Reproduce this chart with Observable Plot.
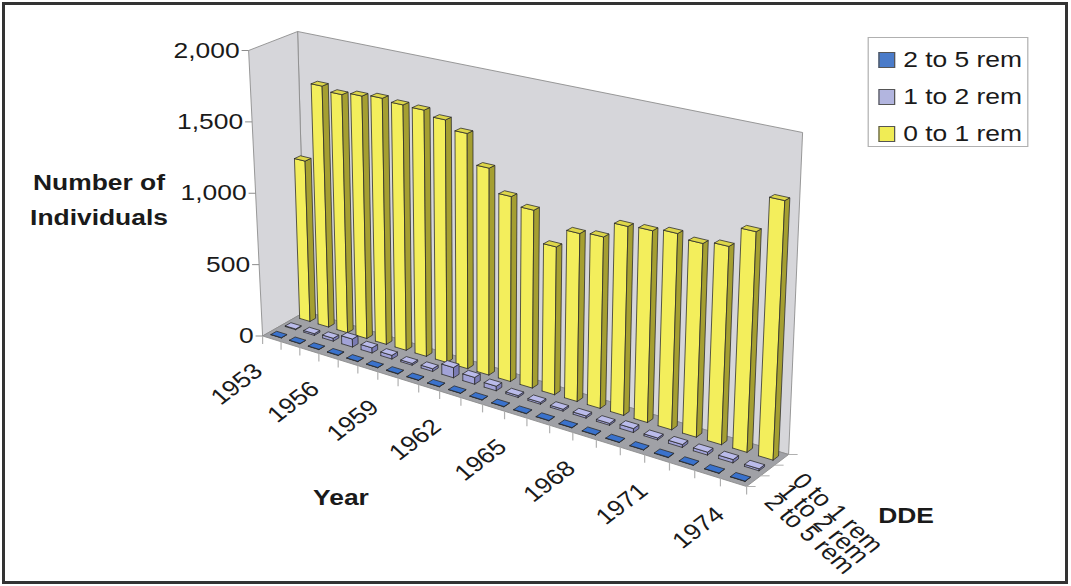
<!DOCTYPE html>
<html>
<head>
<meta charset="utf-8">
<script src="https://cdn.jsdelivr.net/npm/d3@7"></script>
<script src="https://cdn.jsdelivr.net/npm/@observablehq/plot@0.6"></script>
<style>
  html, body { margin: 0; padding: 0; background: #fff; }
  body { width: 1071px; height: 586px; position: relative; overflow: hidden;
         font-family: "Liberation Sans", Arial, sans-serif; }
  #stage { position: absolute; left: 0; top: 0; width: 893px; height: 586px;
           transform: scaleX(1.2); transform-origin: 0 0; }
  #stage svg { position: absolute; left: 0; top: 0; }
  #frame { position: absolute; left: 2px; top: 2px; width: 1066px; height: 582px;
           box-sizing: border-box; border: 3px solid #333; pointer-events: none; }
  .title { position: absolute; transform: translate(-50%, -50%); font-weight: bold;
           font-size: 22px; color: #1a1a1a; white-space: nowrap; text-align: center; line-height: 35px; }
  .legend { position: absolute; border: 1px solid #b0b0b0; background: #fff; box-sizing: border-box; }
  .legend .sw { position: absolute; box-sizing: border-box; border: 1px solid #555; }
  .legend .tx { position: absolute; font-size: 22px; color: #1a1a1a; white-space: nowrap; line-height: 22px; }
</style>
</head>
<body>
<div id="stage"></div>
<div id="frame"></div>
<script>
// ---------------- data ----------------
const years = [1953,1954,1955,1956,1957,1958,1959,1960,1961,1962,1963,1964,1965,1966,1967,1968,1969,1970,1971,1972,1973,1974];
const yearTicks = [1953,1956,1959,1962,1965,1968,1971,1974];
const valueTicks = [0,500,1000,1500,2000];
const seriesNames = ["2 to 5 rem","1 to 2 rem","0 to 1 rem"];
const rem0to1 = [1135,1695,1665,1685,1700,1685,1680,1645,1585,1385,1230,1175,970,1095,1110,1215,1225,1245,1220,1240,1370,1600];
const rem1to2 = [5,12,20,55,35,25,12,18,68,45,30,12,12,12,14,12,25,12,18,18,20,12];
const rem2to5 = [2,2,2,3,2,2,3,2,2,2,2,2,2,2,2,2,2,2,3,2,2,2];
const valueMax = 2000;

// ---------------- layout / style ----------------
const SX = 1.2;                       // horizontal stretch of the whole figure
const box = {                         // screen corners of the 3-D box (front/back, left/right, bottom/top)
  FLB: [262, 335.5], FRB: [746, 486], BLB: [305, 311], BRB: [788, 454],
  FLT: [248, 50],    FRT: [764, 151], BLT: [297, 31],  BRT: [802, 132]
};
const LAMBDA = 0.833;                 // perspective foreshortening along the year axis
const BAR_YW = 0.56, BAR_DW = 0.13;   // bar footprint (fraction of year slot, of full depth)
const palette = {
  "0 to 1 rem": {front: "#f3ee5c", side: "#a59f31", top: "#ddd64a", legend: "#f0ec55"},
  "1 to 2 rem": {front: "#a2a3d8", side: "#7a7bb3", top: "#babbea", legend: "#b2b5df"},
  "2 to 5 rem": {front: "#2c5aa8", side: "#22478a", top: "#3a72cc", legend: "#4a7bc9"}
};
const rowOf = {"2 to 5 rem": 0, "1 to 2 rem": 1, "0 to 1 rem": 2};
const valuesOf = {"2 to 5 rem": rem2to5, "1 to 2 rem": rem1to2, "0 to 1 rem": rem0to1};

// ---------------- projection ----------------
const N = years.length;
const uOf = t => LAMBDA * t / (1 + (LAMBDA - 1) * t);
const mix = (a, b, k) => [a[0] + (b[0] - a[0]) * k, a[1] + (b[1] - a[1]) * k];
const bil = (p00, p10, p01, p11, u, d) => mix(mix(p00, p10, u), mix(p01, p11, u), d);
function P(t, d, h) {
  const u = uOf(t);
  const b = bil(box.FLB, box.FRB, box.BLB, box.BRB, u, d);
  const tp = bil(box.FLT, box.FRT, box.BLT, box.BRT, u, d);
  return mix(b, tp, h);
}

// walls
const walls = [];
function addPoly(arr, id, key, pts) { [...pts, pts[0]].forEach(p => arr.push({id, key, x: p[0], y: p[1]})); }
addPoly(walls, "back", "back", [P(0,1,0), P(1,1,0), P(1,1,1), P(0,1,1)]);
addPoly(walls, "left", "left", [P(0,0,0), P(0,1,0), P(0,1,1), P(0,0,1)]);
const floor = [];
addPoly(floor, "floor", "floor", [P(0,0,0), P(1,0,0), P(1,1,0), P(0,1,0)]);

// bars, back row first, left to right
const bars = [];
for (const name of ["0 to 1 rem", "1 to 2 rem", "2 to 5 rem"]) {
  const vals = valuesOf[name], row = rowOf[name];
  vals.forEach((v, i) => {
    const h = v / valueMax;
    const tc = (i + 0.5) / N, t0 = tc - BAR_YW / 2 / N, t1 = tc + BAR_YW / 2 / N;
    const dc = (row + 0.5) / 3, d0 = dc - BAR_DW / 2, d1 = dc + BAR_DW / 2;
    const id = name + "-" + years[i];
    addPoly(bars, id + "-f", name + "|front", [P(t0,d0,0), P(t1,d0,0), P(t1,d0,h), P(t0,d0,h)]);
    addPoly(bars, id + "-s", name + "|side",  [P(t1,d0,0), P(t1,d1,0), P(t1,d1,h), P(t1,d0,h)]);
    addPoly(bars, id + "-t", name + "|top",   [P(t0,d0,h), P(t1,d0,h), P(t1,d1,h), P(t0,d1,h)]);
  });
}
const faceKeys = seriesNames.flatMap(n => ["front","side","top"].map(f => n + "|" + f));
const faceColors = seriesNames.flatMap(n => ["front","side","top"].map(f => palette[n][f]));

const boundaries = d3.range(N + 1).map(k => k / N);
const depthBounds = [0, 1/3, 2/3, 1];
const fmt = d3.format(",");
const seriesRows = seriesNames.map(name => ({name, row: rowOf[name]}));

const chart = Plot.plot({
  width: 893, height: 586, margin: 0,
  style: {background: "transparent", overflow: "visible", fontFamily: "'Liberation Sans', Arial, sans-serif"},
  x: {type: "linear", domain: [0, 1071], range: [0, 1071 / SX], axis: null},
  y: {type: "linear", domain: [0, 586], range: [0, 586], axis: null},
  color: {type: "ordinal", domain: faceKeys, range: faceColors},
  marks: [
    Plot.line(walls, {x: "x", y: "y", z: "id", fill: "#d6d6da", stroke: "#8c8c8c", strokeWidth: 0.8, curve: "linear"}),
    Plot.line(floor, {x: "x", y: "y", z: "id", fill: "#a0a1a6", stroke: "#8c8c8c", strokeWidth: 0.8, curve: "linear"}),
    // value axis ticks + labels
    Plot.link(valueTicks, {x1: v => P(0,0,v/valueMax)[0] - 7, x2: v => P(0,0,v/valueMax)[0],
      y1: v => P(0,0,v/valueMax)[1], y2: v => P(0,0,v/valueMax)[1], stroke: "#8c8c8c", strokeWidth: 1}),
    Plot.text(valueTicks, {x: v => P(0,0,v/valueMax)[0] - 9, y: v => P(0,0,v/valueMax)[1],
      text: v => fmt(v), textAnchor: "end", fontSize: 22, fill: "#1a1a1a"}),
    // year axis ticks
    Plot.link(boundaries, {x1: t => P(t,0,0)[0], x2: t => P(t,0,0)[0],
      y1: t => P(t,0,0)[1], y2: t => P(t,0,0)[1] + 8, stroke: "#b0b0b0", strokeWidth: 1}),
    // depth axis ticks
    Plot.link(depthBounds, {x1: d => P(1,d,0)[0], x2: d => P(1,d,0)[0] + 9,
      y1: d => P(1,d,0)[1], y2: d => P(1,d,0)[1], stroke: "#b0b0b0", strokeWidth: 1}),
    // bars
    Plot.line(bars, {x: "x", y: "y", z: "id", fill: "key", stroke: "#2a2a2a", strokeWidth: 0.7,
      strokeLinejoin: "miter", curve: "linear"}),
    // year labels
    Plot.text(yearTicks, {x: yr => P((years.indexOf(yr) + 0.5) / N, 0, 0)[0],
      y: yr => P((years.indexOf(yr) + 0.5) / N, 0, 0)[1], text: yr => String(yr),
      rotate: -42, textAnchor: "end", dx: -11, dy: 29, fontSize: 22, fill: "#1a1a1a"}),
    // depth labels
    Plot.text(seriesRows, {x: s => P(1, (s.row + 0.5) / 3, 0)[0], y: s => P(1, (s.row + 0.5) / 3, 0)[1],
      text: "name", rotate: 47, textAnchor: "start", dx: 13, dy: 17, fontSize: 22, fill: "#1a1a1a"})
  ]
});

const stage = document.getElementById("stage");
stage.appendChild(chart);

// axis titles
function title(html, cx, cy) {
  const el = document.createElement("div");
  el.className = "title";
  el.innerHTML = html;
  el.style.left = (cx / SX) + "px";
  el.style.top = cy + "px";
  stage.appendChild(el);
}
title("Number of<br>Individuals", 99, 200);
title("Year", 341, 497);
title("DDE", 906, 515);

// legend
const lg = document.createElement("div");
lg.className = "legend";
lg.style.left = (868 / SX) + "px"; lg.style.top = "37px";
lg.style.width = (161 / SX) + "px"; lg.style.height = "110px";
seriesNames.forEach((name, k) => {
  const cy = 22 + k * 37;
  const sw = document.createElement("div");
  sw.className = "sw";
  sw.style.left = (9 / SX) + "px"; sw.style.top = (cy - 8) + "px";
  sw.style.width = (17 / SX) + "px"; sw.style.height = "16px";
  sw.style.background = palette[name].legend;
  lg.appendChild(sw);
  const tx = document.createElement("div");
  tx.className = "tx";
  tx.textContent = name;
  tx.style.left = (34 / SX) + "px"; tx.style.top = (cy - 11) + "px";
  lg.appendChild(tx);
});
stage.appendChild(lg);
</script>
</body>
</html>
